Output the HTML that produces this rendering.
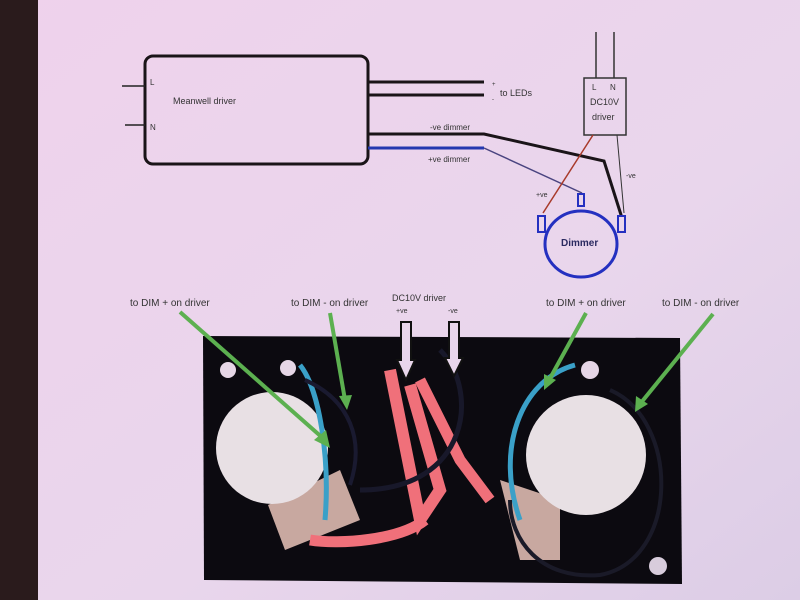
<!DOCTYPE html>
<html><head><meta charset="utf-8"><style>
html,body{margin:0;padding:0;width:800px;height:600px;overflow:hidden;background:#e9d3ea}
svg{display:block}
text{font-family:"Liberation Sans",sans-serif}
</style></head><body>
<svg width="800" height="600" viewBox="0 0 800 600" xmlns="http://www.w3.org/2000/svg">
<defs>
<linearGradient id="bg" x1="0" y1="0" x2="1" y2="1">
<stop offset="0" stop-color="#efd2ec"/><stop offset="0.6" stop-color="#e9d6ec"/><stop offset="1" stop-color="#dccde6"/>
</linearGradient>
</defs>
<rect width="800" height="600" fill="url(#bg)"/>
<rect x="0" y="0" width="38" height="600" fill="#2a1b1c"/>
<!-- Meanwell driver -->
<rect x="145" y="56" width="223" height="108" rx="8" fill="none" stroke="#1a1418" stroke-width="3"/>
<line x1="122" y1="86" x2="145" y2="86" stroke="#222" stroke-width="1.5"/>
<line x1="125" y1="125" x2="145" y2="125" stroke="#222" stroke-width="1.5"/>
<text x="150" y="85" font-size="8" fill="#333">L</text>
<text x="150" y="130" font-size="8" fill="#333">N</text>
<text x="173" y="104" font-size="9" fill="#333">Meanwell driver</text>
<line x1="368" y1="82" x2="484" y2="82" stroke="#1a1418" stroke-width="3"/>
<line x1="368" y1="95" x2="484" y2="95" stroke="#1a1418" stroke-width="3"/>
<text x="492" y="86" font-size="6" fill="#333">+</text>
<text x="500" y="96" font-size="9" fill="#333">to LEDs</text>
<text x="492" y="101" font-size="6" fill="#333">-</text>
<polyline points="368,134 484,134 604,161 622,218" fill="none" stroke="#1a1418" stroke-width="3"/>
<text x="430" y="130" font-size="8" fill="#333">-ve dimmer</text>
<line x1="368" y1="148" x2="484" y2="148" stroke="#2438b0" stroke-width="3"/>
<polyline points="484,148 582,193" fill="none" stroke="#4a4480" stroke-width="1.5"/>
<text x="428" y="162" font-size="8" fill="#333">+ve dimmer</text>
<!-- DC10V driver -->
<line x1="596" y1="32" x2="596" y2="78" stroke="#333" stroke-width="1.5"/>
<line x1="614" y1="32" x2="614" y2="78" stroke="#333" stroke-width="1.5"/>
<rect x="584" y="78" width="42" height="57" fill="none" stroke="#333" stroke-width="1.5"/>
<text x="592" y="90" font-size="8" fill="#333">L</text>
<text x="610" y="90" font-size="8" fill="#333">N</text>
<text x="590" y="105" font-size="9" fill="#333">DC10V</text>
<text x="592" y="120" font-size="9" fill="#333">driver</text>
<line x1="593" y1="135" x2="543" y2="213" stroke="#a83a2a" stroke-width="1.5"/>
<line x1="617" y1="135" x2="624" y2="213" stroke="#333" stroke-width="1"/>
<text x="536" y="197" font-size="7" fill="#333">+ve</text>
<text x="626" y="178" font-size="7" fill="#333">-ve</text>
<!-- Dimmer -->
<ellipse cx="581" cy="244" rx="36" ry="33" fill="none" stroke="#2430c0" stroke-width="3"/>
<rect x="538" y="216" width="7" height="16" fill="#e9d6ec" stroke="#2430c0" stroke-width="2"/>
<rect x="618" y="216" width="7" height="16" fill="#e9d6ec" stroke="#2430c0" stroke-width="2"/>
<rect x="578" y="194" width="6" height="12" fill="#e9d6ec" stroke="#2430c0" stroke-width="2"/>
<text x="561" y="246" font-size="10" font-weight="bold" fill="#2a2a60" font-family="Liberation Serif">Dimmer</text>
<!-- labels bottom -->
<text x="130" y="306" font-size="10" fill="#333">to DIM + on driver</text>
<text x="291" y="306" font-size="10" fill="#333">to DIM - on driver</text>
<text x="392" y="301" font-size="9" fill="#333">DC10V driver</text>
<text x="396" y="313" font-size="7" fill="#333">+ve</text>
<text x="448" y="313" font-size="7" fill="#333">-ve</text>
<text x="546" y="306" font-size="10" fill="#333">to DIM + on driver</text>
<text x="662" y="306" font-size="10" fill="#333">to DIM - on driver</text>
<!-- board -->
<path d="M203 336 L680 338 L682 584 L204 580 Z" fill="#0c0a10"/>
<circle cx="228" cy="370" r="8" fill="#e6d6e6"/>
<circle cx="288" cy="368" r="8" fill="#e6d6e6"/>
<circle cx="590" cy="370" r="9" fill="#e6d6e6"/>
<circle cx="658" cy="566" r="9" fill="#d8ccdc"/>
<!-- left pot -->
<path d="M268 505 L340 470 L360 520 L285 550 Z" fill="#c8a8a0"/>
<circle cx="272" cy="448" r="56" fill="#e8e0e4"/>
<!-- right pot -->
<path d="M500 480 L560 500 L560 560 L520 560 Z" fill="#c8a8a0"/>
<circle cx="586" cy="455" r="60" fill="#e8e0e4"/>
<!-- wires -->
<path d="M300 365 C320 390 330 460 325 520" fill="none" stroke="#3aa0c8" stroke-width="5"/>
<path d="M305 380 C350 400 365 440 350 485" fill="none" stroke="#1a1a30" stroke-width="4"/>
<path d="M390 370 L420 520 L440 490 L410 385" fill="none" stroke="#f0707a" stroke-width="12"/>
<path d="M425 520 C400 540 340 545 310 540" fill="none" stroke="#f0707a" stroke-width="11"/>
<path d="M420 380 L460 460 L490 500" fill="none" stroke="#f0707a" stroke-width="11"/>
<path d="M440 350 C480 390 470 490 360 490" fill="none" stroke="#18182a" stroke-width="5"/>
<path d="M575 365 C520 380 495 450 520 520" fill="none" stroke="#3aa0c8" stroke-width="5"/>
<path d="M610 390 C680 420 680 560 600 575 C540 580 510 540 510 500" fill="none" stroke="#1a1a28" stroke-width="4"/>
<!-- green arrows -->
<g stroke="#5cb050" stroke-width="4" fill="#5cb050">
<line x1="180" y1="312" x2="325" y2="440"/>
<line x1="330" y1="313" x2="345" y2="400"/>
<line x1="586" y1="313" x2="548" y2="382"/>
<line x1="713" y1="314" x2="640" y2="404"/>
</g>
<polygon points="330,448 314,440 326,430" fill="#5cb050"/>
<polygon points="347,410 339,396 352,395" fill="#5cb050"/>
<polygon points="544,390 544,374 556,380" fill="#5cb050"/>
<polygon points="635,412 636,396 648,404" fill="#5cb050"/>
<!-- hollow arrows -->
<path d="M401 322 L411 322 L411 360 L415 360 L406 380 L397 360 L401 360 Z" fill="#e9d6ec" stroke="#111" stroke-width="2"/>
<path d="M449 322 L459 322 L459 358 L463 358 L454 376 L445 358 L449 358 Z" fill="#e9d6ec" stroke="#111" stroke-width="2"/>
</svg>
</body></html>
